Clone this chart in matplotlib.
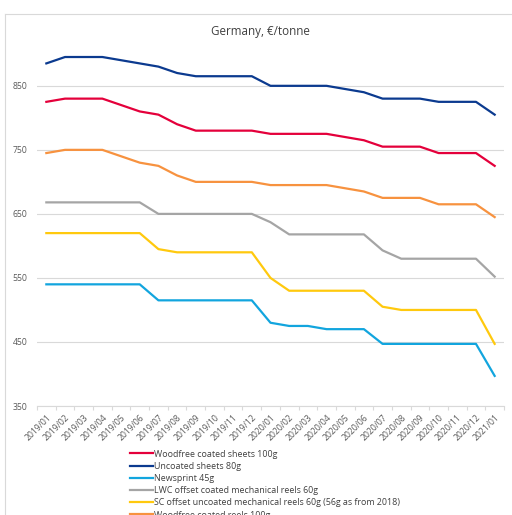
import matplotlib.pyplot as plt
from matplotlib.lines import Line2D

plt.rcParams['font.family'] = ['Open Sans', 'DejaVu Sans']

# data
months = ['2019/01', '2019/02', '2019/03', '2019/04', '2019/05', '2019/06', '2019/07',
          '2019/08', '2019/09', '2019/10', '2019/11', '2019/12', '2020/01', '2020/02',
          '2020/03', '2020/04', '2020/05', '2020/06', '2020/07', '2020/08', '2020/09',
          '2020/10', '2020/11', '2020/12', '2021/01']
woodfree_sheets = [825, 830, 830, 830, 820, 810, 805, 790, 780, 780, 780, 780, 775,
                   775, 775, 775, 770, 765, 755, 755, 755, 745, 745, 745, 725]
uncoated_sheets = [885, 895, 895, 895, 890, 885, 880, 870, 865, 865, 865, 865, 850,
                   850, 850, 850, 845, 840, 830, 830, 830, 825, 825, 825, 805]
newsprint = [540, 540, 540, 540, 540, 540, 515, 515, 515, 515, 515, 515, 480,
             475, 475, 470, 470, 470, 447, 447, 447, 447, 447, 447, 397]
lwc = [668, 668, 668, 668, 668, 668, 650, 650, 650, 650, 650, 650, 637,
       618, 618, 618, 618, 618, 593, 580, 580, 580, 580, 580, 552]
sc = [620, 620, 620, 620, 620, 620, 595, 590, 590, 590, 590, 590, 550,
      530, 530, 530, 530, 530, 505, 500, 500, 500, 500, 500, 447]
woodfree_reels = [745, 750, 750, 750, 740, 730, 725, 710, 700, 700, 700, 700, 695,
                  695, 695, 695, 690, 685, 675, 675, 675, 665, 665, 665, 645]

series = [
    ('Woodfree coated sheets 100g', woodfree_sheets, '#E4003B'),
    ('Uncoated sheets 80g', uncoated_sheets, '#0B3A8F'),
    ('Newsprint 45g', newsprint, '#12A5DE'),
    ('LWC offset coated mechanical reels 60g', lwc, '#A5A5A5'),
    ('SC offset uncoated mechanical reels 60g (56g as from 2018)', sc, '#FFC90E'),
    ('Woodfree coated reels 100g', woodfree_reels, '#F7923F'),
]

fig = plt.figure(figsize=(5.12, 5.15), dpi=100)
ax = fig.add_axes([37 / 512, 1 - 406 / 515, 467 / 512, 365 / 515])

x = range(len(months))
for name, vals, col in series:
    ax.plot(x, vals, color=col, linewidth=1.6, label=name)

ax.set_xlim(-0.5, len(months) - 0.5)
ax.set_ylim(350, 920)
ax.set_yticks([350, 450, 550, 650, 750, 850])
ax.set_xticks(list(x))
ax.set_xticklabels(months, rotation=45, ha='right', rotation_mode='anchor')
# small category separators on the x axis
ax.set_xticks([i - 0.5 for i in range(len(months) + 1)], minor=True)
ax.tick_params(axis='x', which='minor', length=3, color='#D9D9D9', width=0.8)
ax.tick_params(axis='both', which='major', length=0, labelsize=6.2, labelcolor='#595959')
ax.tick_params(axis='x', which='major', pad=5)
ax.tick_params(axis='y', pad=7)
ax.grid(axis='y', color='#D9D9D9', linewidth=0.8)
ax.set_axisbelow(True)
for s in ['top', 'right', 'left']:
    ax.spines[s].set_visible(False)
ax.spines['bottom'].set_color('#D9D9D9')

fig.text(0.508, 1 - 32 / 515, 'Germany, €/tonne', ha='center', va='center',
         fontsize=8.4, color='#404040')

fig.legend(loc='upper left', bbox_to_anchor=(126 / 512, 1 - 446 / 515), frameon=False,
           fontsize=6.4, handlelength=2.6, handletextpad=0.1, labelspacing=0.36,
           labelcolor='#404040', borderaxespad=0)

# chart frame
fig.add_artist(Line2D([5 / 512, 5 / 512], [0, 1 - 14 / 515], color='#D9D9D9', linewidth=0.8))
fig.add_artist(Line2D([5 / 512, 1], [1 - 14 / 515, 1 - 14 / 515], color='#D9D9D9', linewidth=0.8))

fig.savefig('out.png', dpi=100)
